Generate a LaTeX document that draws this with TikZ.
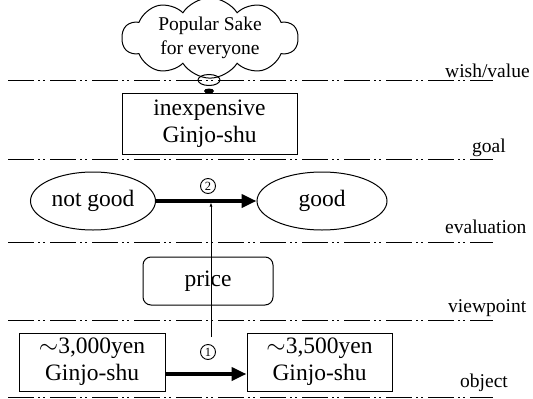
\documentclass[tikz,border=0pt]{standalone}
\usepackage{fontspec}
\setmainfont{Liberation Serif}
\usetikzlibrary{shapes.symbols,shapes.geometric,arrows.meta}
\begin{document}
\begin{tikzpicture}[x=1pt,y=-1pt,
  every node/.style={font=\fontsize{23.5}{27}\selectfont, align=center, inner sep=0pt},
  level line/.style={line width=0.9pt, dash pattern=on 26pt off 4pt on 2pt off 3pt on 2pt off 5pt},
  level label/.style={anchor=base west, font=\fontsize{19.5}{22}\selectfont},
  sqbox/.style={draw, line width=1pt, minimum height=58pt},
  oval/.style={ellipse, draw, line width=1pt, minimum height=58pt},
  numcirc/.style={circle, draw, line width=0.9pt, minimum size=15pt, font=\fontsize{12.5}{12.5}\selectfont},
  bigarrow/.style={line width=3.8pt, -{Triangle[length=15pt,width=13pt]}},
  thinarrow/.style={line width=0.9pt, -{Latex[length=4pt,width=3pt]}}
]
\useasboundingbox (0,0) rectangle (533,399);

% level separators
\draw[level line] (8,80) -- (493,80);
\draw[level line] (8,159) -- (493,159);
\draw[level line] (8,242) -- (493,242);
\draw[level line] (8,320) -- (493,320);
\draw[level line] (8,397) -- (493,397);

% level names
\node[level label] (lwish) at (445,77) {wish/value};
\node[level label] (lgoal) at (472,152) {goal};
\node[level label] (leval) at (445,233) {evaluation};
\node[level label] (lview) at (448,312) {viewpoint};
\node[level label] (lobj) at (460,387) {object};

% wish / value
\node[cloud, draw, line width=1pt, cloud puffs=10, cloud puff arc=115,
      cloud ignores aspect, minimum width=176pt, minimum height=68pt,
      font=\fontsize{19.5}{23.5}\selectfont] (wish) at (210,38) {Popular Sake\\for everyone};
\node[ellipse, draw, line width=1pt, minimum width=22pt, minimum height=11pt] (bubble) at (209,80) {};
\node[ellipse, fill, minimum width=10pt, minimum height=5pt] (blob) at (209,91) {};

% goal
\node[sqbox, minimum width=175pt, minimum height=61pt] (goal) at (209.5,123.5) {inexpensive\\Ginjo-shu};

% evaluation
\node[oval, minimum width=125pt] (bad) at (93,201) {not good};
\node[oval, minimum width=130pt] (good) at (322,201) {good};
\draw[bigarrow] (bad) -- (good);
\node[numcirc] (n2) at (208,186) {2};

% viewpoint
\node[draw, line width=1pt, rounded corners=8pt, minimum width=130pt, minimum height=48pt] (price) at (208,281) {price};

% objects
\node[sqbox, minimum width=146pt] (obj1) at (92,362) {$\sim$3,000yen\\Ginjo-shu};
\node[sqbox, minimum width=145pt] (obj2) at (319.5,362) {$\sim$3,500yen\\Ginjo-shu};
\draw[bigarrow] ([yshift=-12pt]obj1.east) -- ([yshift=-12pt]obj2.west);
\node[numcirc] (n1) at (208,352) {1};

% viewpoint link from the object change up to the evaluation change
\coordinate (vbase) at (211,337);
\draw[thinarrow] (vbase) -- ([yshift=-1.5pt]vbase |- bad.east);
\end{tikzpicture}
\end{document}
